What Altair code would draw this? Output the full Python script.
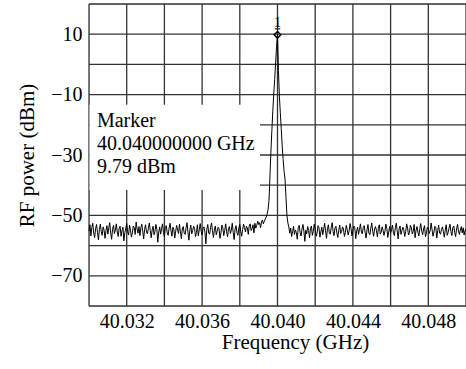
import altair as alt
import pandas as pd
import numpy as np

# ---- data ----
F_START, F_STOP = 40.030, 40.050
STEP = 0.00005  # analyzer sample spacing (401 points over 20 MHz)

noise_left = [
    -55.2,-53.1,-56.8,-54.0,-52.6,-55.9,-57.3,-54.4,-53.0,-55.6,
    -58.1,-54.7,-52.9,-55.3,-56.6,-53.8,-54.9,-57.6,-55.0,-53.4,
    -56.2,-54.1,-52.4,-55.8,-57.9,-54.6,-53.3,-56.0,-54.8,-52.8,
    -55.5,-57.0,-54.2,-53.6,-56.9,-55.1,-53.9,-58.4,-55.7,-54.3,
    -52.7,-55.4,-56.5,-53.2,-54.9,-57.2,-55.8,-53.5,-54.0,-56.3,
    -52.2,-54.5,-55.9,-53.7,-56.7,-54.1,-52.9,-55.2,-57.8,-54.6,
    -53.1,-55.6,-56.1,-54.3,-52.5,-55.0,-57.4,-54.8,-53.6,-56.4,
    -55.3,-53.0,-54.7,-58.9,-55.5,-53.8,-56.2,-54.4,-52.8,-55.7,
    -57.1,-54.0,-53.4,-55.8,-56.6,-54.2,-52.6,-55.1,-56.9,-53.9,
    -54.6,-57.5,-55.2,-53.3,-54.8,-56.0,-52.9,-55.4,-57.7,-54.5,
    -53.7,-55.9,-56.3,-54.1,-52.4,-55.6,-58.2,-54.9,-53.2,-56.1,
    -55.0,-53.6,-54.3,-57.0,-55.7,-53.1,-56.8,-54.7,-52.7,-55.3,
    -56.5,-54.2,-53.8,-55.5,-59.4,-54.6,-53.0,-55.9,-56.2,-54.0,
    -52.5,-55.1,-57.3,-54.8,-53.5,-56.4,-55.2,-53.9,-54.4,-57.6,
    -55.8,-53.2,-54.1,-56.7,-55.0,-52.8,-55.4,-57.1,-54.3,-53.7,
    -56.0,-54.9,-52.6,-55.6,-58.0,-54.5,-53.4,-55.7,-56.6,-54.2,
    -53.0,-55.3,-56.9,-54.7,-52.9,-54.0,-55.5,-53.6,-54.1,-56.3,
    -53.5,-52.8,-55.0,-54.4,-53.1,-55.8,-52.6,-54.2,-53.3,-51.9,
    -53.0,-52.4,-54.1,-52.2,-51.5,-52.8,
]

peak = [
    -52.0,-51.2,-50.6,-49.5,-48.0,-45.0,-37.0,-29.0,-22.0,-15.5,
    -10.0,-5.0,0.5,6.0,9.79,
    -2.0,-10.5,-16.0,-21.5,-27.0,-31.5,-35.5,-38.0,-44.0,-50.0,
]

noise_right = [
    -52.5,-53.8,-55.9,-54.2,-57.0,-55.4,-53.6,-56.3,-54.8,-55.7,
    -57.9,-54.1,-53.3,-55.6,-56.8,-54.5,-53.0,-55.2,-58.6,-54.9,
    -56.1,-53.7,-55.0,-57.4,-54.3,-53.5,-56.6,-55.3,-52.9,-54.7,
    -56.9,-55.8,-53.4,-54.0,-57.2,-55.5,-53.9,-56.4,-54.6,-52.6,
    -55.1,-57.6,-54.4,-53.1,-55.9,-56.2,-54.0,-52.4,-55.3,-56.7,
    -54.2,-53.6,-55.8,-57.3,-54.9,-53.2,-56.0,-55.4,-53.8,-54.5,
    -57.0,-55.6,-53.3,-54.7,-56.5,-55.1,-52.7,-54.3,-56.8,-55.0,
    -53.5,-54.1,-57.7,-55.2,-53.9,-56.3,-54.6,-52.8,-55.5,-56.1,
    -54.0,-53.4,-55.7,-57.5,-54.8,-53.0,-55.9,-56.4,-54.2,-52.5,
    -55.3,-56.9,-54.5,-53.7,-55.0,-57.1,-54.3,-53.1,-56.2,-55.6,
    -53.8,-54.9,-56.6,-55.2,-52.9,-54.4,-57.3,-55.5,-53.6,-56.0,
    -54.7,-53.2,-55.8,-56.7,-54.1,-52.6,-55.1,-57.8,-54.6,-53.5,
    -56.3,-55.0,-53.9,-54.8,-57.0,-55.4,-52.8,-54.2,-56.5,-55.7,
    -53.3,-54.0,-56.1,-55.3,-53.0,-57.4,-54.9,-53.7,-55.6,-56.8,
    -54.4,-52.7,-55.2,-56.4,-54.5,-53.4,-57.1,-55.8,-53.9,-54.3,
    -56.0,-55.1,-52.5,-54.7,-56.9,-55.5,-53.6,-54.1,-57.5,-55.0,
    -53.2,-55.9,-56.2,-54.6,-53.8,-55.4,-57.2,-54.8,-53.1,-56.6,
    -55.7,-54.2,-52.9,-55.3,-56.7,-54.0,-53.5,-55.6,-57.0,-54.5,
    -53.0,-55.2,-56.3,-54.9,-53.7,-55.8,-54.1,-56.5,-55.0,-54.4,
]

marker_freq = [40.040]
marker_power = [9.79]
marker_lines = ["Marker", "40.040000000 GHz", "9.79 dBm"]

x_grid = [40.030, 40.032, 40.034, 40.036, 40.038, 40.040,
          40.042, 40.044, 40.046, 40.048, 40.050]
x_labels = [40.032, 40.036, 40.040, 40.044, 40.048]
y_grid = [-80, -70, -60, -50, -40, -30, -20, -10, 0, 10, 20]
y_labels = [-70, -50, -30, -10, 10]

power = noise_left + peak + noise_right
freq = F_START + STEP * np.arange(len(power))
trace = pd.DataFrame({"f": freq, "p": power})

FONT = "Liberation Serif"
W, H = 377, 302
GRID = "#333333"

xs = alt.Scale(domain=[F_START, F_STOP], nice=False, zero=False)
ys = alt.Scale(domain=[-80, 20], nice=False, zero=False)

x_axis = alt.Axis(values=x_labels, format=".3f", labelOverlap=False,
                  grid=False, ticks=False, domain=False,
                  labelFont=FONT, labelFontSize=20, labelColor="black",
                  labelBaseline="alphabetic", labelPadding=21,
                  title="Frequency (GHz)", titleFont=FONT, titleFontSize=21,
                  titleFontWeight="normal", titleColor="black",
                  titleX=206, titleY=42, titleBaseline="alphabetic", titleAlign="center")
y_axis = alt.Axis(values=y_labels, labelOverlap=False,
                  grid=False, ticks=False, domain=False,
                  labelFont=FONT, labelFontSize=20, labelColor="black", labelPadding=7,
                  title="RF power (dBm)", titleFont=FONT, titleFontSize=21,
                  titleFontWeight="normal", titleColor="black",
                  titleX=-56, titleY=151, titleBaseline="alphabetic", titleAlign="center",
                  titleAngle=270)

vgrid = alt.Chart(pd.DataFrame({"g": x_grid})).mark_rule(
    color=GRID, strokeWidth=1.3).encode(x=alt.X("g:Q", scale=xs, axis=x_axis))
hgrid = alt.Chart(pd.DataFrame({"g": y_grid})).mark_rule(
    color=GRID, strokeWidth=1.3).encode(y=alt.Y("g:Q", scale=ys, axis=y_axis))

line = alt.Chart(trace).mark_line(color="black", strokeWidth=1).encode(
    x=alt.X("f:Q", scale=xs),
    y=alt.Y("p:Q", scale=ys),
)

# annotation box (in data units)
box_df = pd.DataFrame({"x": [40.03003], "x2": [40.03907], "y": [-13.4], "y2": [-41.6]})
box = alt.Chart(box_df).mark_rect(color="white").encode(
    x=alt.X("x:Q", scale=xs), x2="x2", y=alt.Y("y:Q", scale=ys), y2="y2")

txt_df = pd.DataFrame({"t": marker_lines, "x": [40.03042] * 3, "y": [-20.73, -28.34, -35.96]})
txt = alt.Chart(txt_df).mark_text(font=FONT, fontSize=20, align="left",
                                  baseline="alphabetic", color="black").encode(
    x=alt.X("x:Q", scale=xs), y=alt.Y("y:Q", scale=ys), text="t:N")

mk_df = pd.DataFrame({"f": marker_freq, "p": marker_power, "label": ["1"]})
mk = alt.Chart(mk_df).mark_point(shape="diamond", filled=False, color="black",
                                 size=45, strokeWidth=1.5, opacity=1).encode(
    x=alt.X("f:Q", scale=xs), y=alt.Y("p:Q", scale=ys))
mk_bar = alt.Chart(mk_df).mark_point(shape="M -1 0 L 1 0", filled=False, color="black",
                                     size=30, strokeWidth=1, opacity=1, yOffset=-6).encode(
    x=alt.X("f:Q", scale=xs), y=alt.Y("p:Q", scale=ys))
mk_txt = alt.Chart(mk_df).mark_text(font=FONT, fontSize=15, baseline="alphabetic",
                                    align="center", color="black", dy=-8).encode(
    x=alt.X("f:Q", scale=xs), y=alt.Y("p:Q", scale=ys), text="label:N")

chart = alt.layer(vgrid, hgrid, line, box, txt, mk, mk_bar, mk_txt).properties(
    width=W, height=H,
    autosize=alt.AutoSizeParams(type="none"),
    padding={"left": 89, "top": 4, "right": 0, "bottom": 63},
).configure_view(stroke="#222222", strokeWidth=1.3).configure(background="white")

chart.save("out.html", embed_options={"renderer": "svg", "actions": False})
